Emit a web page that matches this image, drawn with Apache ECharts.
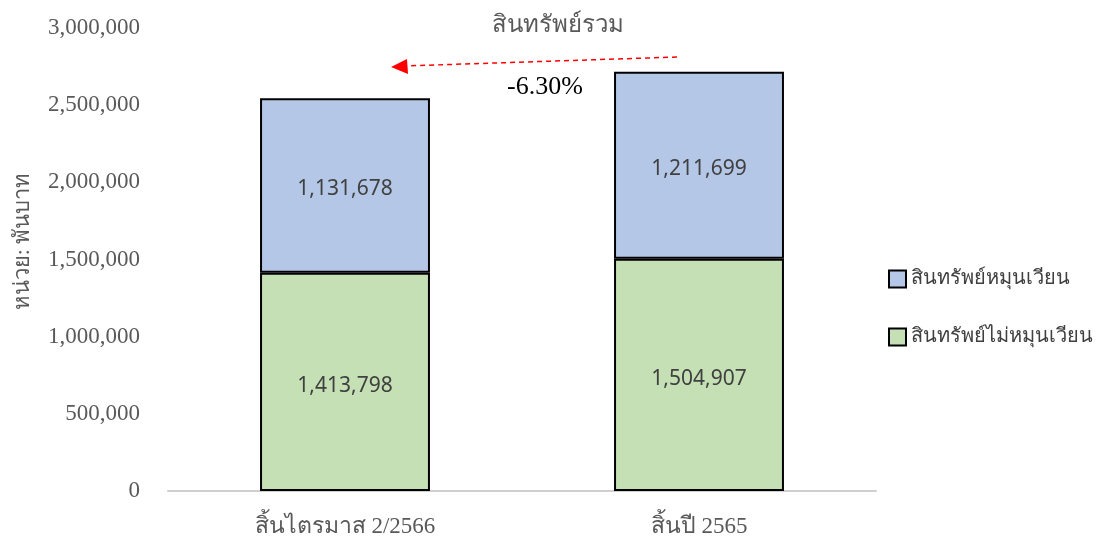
<!DOCTYPE html>
<html>
<head>
<meta charset="utf-8">
<script src="https://cdn.jsdelivr.net/npm/echarts@6/dist/echarts.min.js"></script>
<style>
html,body{margin:0;padding:0;background:#fff;}
#main{width:1111px;height:542px;}
</style>
</head>
<body>
<div id="main"></div>
<script type="text/javascript">
	// ข้อมูล
	var categories = ["สิ้นไตรมาส 2/2566", "สิ้นปี 2565"];
	var nonCurrent = [1413798, 1504907];   // สินทรัพย์ไม่หมุนเวียน
	var current = [1131678, 1211699];      // สินทรัพย์หมุนเวียน
	var seriesNames = ["สินทรัพย์ไม่หมุนเวียน", "สินทรัพย์หมุนเวียน"];
	var yTicks = [0, 500000, 1000000, 1500000, 2000000, 2500000, 3000000];
	var changeText = "-6.30%";
	var totalTitle = "สินทรัพย์รวม";

	var serif = '"Liberation Serif", "Noto Sans", serif';
	var sans = '"Noto Sans", "DejaVu Sans", sans-serif';

	function fmt(v){
		return String(v).replace(/\B(?=(\d{3})+(?!\d))/g, ",");
	}

	var myChart = echarts.init(document.getElementById("main"));

	var labelStyle = {
		show: true,
		position: 'inside',
		offset: [0, 4],
		color: '#404040',
		fontSize: 21,
		fontFamily: sans,
		formatter: function(p){ return fmt(p.value); }
	};

	var option = {
		animation: false,
		grid: {left: 168, right: 235, top: 28, bottom: 51},
		legend: {
			orient: 'vertical',
			left: 883,
			top: 264,
			itemGap: 38,
			itemWidth: 17,
			itemHeight: 17,
			icon: 'rect',
			data: [seriesNames[1], seriesNames[0]],
			textStyle: {color: '#404040', fontSize: 20, fontFamily: serif}
		},
		xAxis: {
			type: 'category',
			data: categories,
			axisTick: {show: false},
			axisLine: {lineStyle: {color: '#d0d0d0', width: 2}},
			axisLabel: {color: '#595959', fontSize: 23, fontFamily: serif, margin: 24}
		},
		yAxis: {
			type: 'value',
			min: yTicks[0],
			max: yTicks[yTicks.length - 1],
			interval: yTicks[1] - yTicks[0],
			name: 'หน่วย: พันบาท',
			nameLocation: 'middle',
			nameGap: 134,
			nameTextStyle: {color: '#595959', fontSize: 22, fontFamily: serif, padding: [0, 0, 0, 36]},
			splitLine: {show: false},
			axisLine: {show: false},
			axisTick: {show: false},
			axisLabel: {color: '#595959', fontSize: 23, fontFamily: serif, margin: 28, formatter: fmt}
		},
		series: [
			{
				name: seriesNames[0],
				type: 'bar',
				stack: 'total',
				barWidth: '48%',
				data: nonCurrent,
				itemStyle: {color: '#c5e0b4', borderColor: '#000', borderWidth: 2},
				label: labelStyle
			},
			{
				name: seriesNames[1],
				type: 'bar',
				stack: 'total',
				barWidth: '48%',
				data: current,
				itemStyle: {color: '#b4c7e7', borderColor: '#000', borderWidth: 2},
				label: labelStyle
			}
		],
		graphic: [
			{
				type: 'text',
				left: 492, top: 14,
				style: {text: totalTitle, fill: '#595959', font: '24px ' + serif}
			},
			{
				type: 'text',
				left: 507, top: 74,
				style: {text: changeText, fill: '#000', font: '26px ' + serif}
			},
			{
				type: 'line',
				shape: {x1: 677, y1: 57, x2: 404, y2: 66},
				style: {stroke: '#ff0000', lineWidth: 1.5, lineDash: [5, 4]}
			},
			{
				type: 'polygon',
				shape: {points: [[391, 67], [407, 59], [408, 74]]},
				style: {fill: '#ff0000'}
			}
		]
	};

	myChart.setOption(option);
</script>
</body>
</html>
